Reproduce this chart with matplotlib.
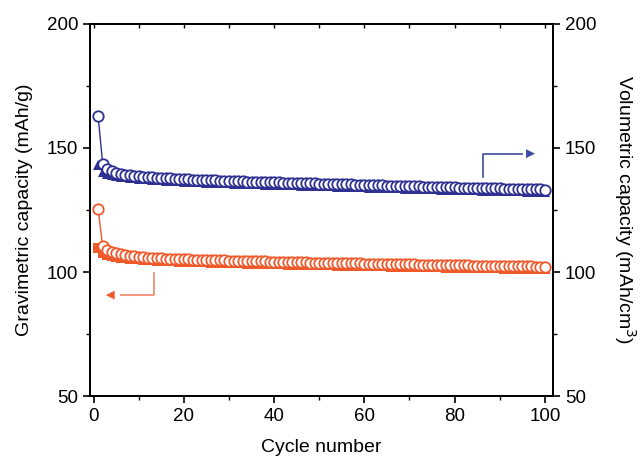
import matplotlib.pyplot as plt
import numpy as np

plt.rcParams['font.family'] = ['Liberation Sans', 'DejaVu Sans']

cycles = np.arange(1, 101)

# gravimetric capacity (mAh/g), left axis
grav_open = [125.3, 110.3, 109.0, 108.1, 107.5, 107.1, 106.8, 106.5, 106.3, 106.1,
             105.9, 105.8, 105.7, 105.6, 105.5, 105.4, 105.3, 105.3, 105.2, 105.1,
             105.1, 105.0, 105.0, 104.9, 104.9, 104.8, 104.8, 104.7, 104.7, 104.6,
             104.6, 104.5, 104.5, 104.4, 104.4, 104.3, 104.3, 104.3, 104.2, 104.2,
             104.1, 104.1, 104.0, 104.0, 104.0, 103.9, 103.9, 103.8, 103.8, 103.8,
             103.7, 103.7, 103.7, 103.6, 103.6, 103.6, 103.5, 103.5, 103.5, 103.4,
             103.4, 103.4, 103.3, 103.3, 103.3, 103.2, 103.2, 103.2, 103.1, 103.1,
             103.1, 103.0, 103.0, 103.0, 102.9, 102.9, 102.9, 102.8, 102.8, 102.8,
             102.7, 102.7, 102.7, 102.6, 102.6, 102.6, 102.5, 102.5, 102.5, 102.5,
             102.4, 102.4, 102.4, 102.3, 102.3, 102.3, 102.3, 102.2, 102.2, 102.2]
grav_fill = [109.6, 107.6, 106.9, 106.5, 106.1, 105.8, 105.6, 105.4, 105.2, 105.1,
             104.9, 104.8, 104.7, 104.6, 104.5, 104.4, 104.3, 104.3, 104.2, 104.1,
             104.1, 104.0, 104.0, 103.9, 103.9, 103.8, 103.8, 103.7, 103.7, 103.6,
             103.6, 103.5, 103.5, 103.4, 103.4, 103.3, 103.3, 103.3, 103.2, 103.2,
             103.1, 103.1, 103.0, 103.0, 103.0, 102.9, 102.9, 102.8, 102.8, 102.8,
             102.7, 102.7, 102.7, 102.6, 102.6, 102.6, 102.5, 102.5, 102.5, 102.4,
             102.4, 102.4, 102.3, 102.3, 102.3, 102.2, 102.2, 102.2, 102.1, 102.1,
             102.1, 102.0, 102.0, 102.0, 101.9, 101.9, 101.9, 101.8, 101.8, 101.8,
             101.7, 101.7, 101.7, 101.6, 101.6, 101.6, 101.5, 101.5, 101.5, 101.5,
             101.4, 101.4, 101.4, 101.3, 101.3, 101.3, 101.3, 101.2, 101.2, 101.2]

# volumetric capacity (mAh/cm3), right axis
vol_open = [162.8, 143.6, 141.6, 140.7, 140.1, 139.7, 139.3, 139.0, 138.8, 138.6,
            138.4, 138.3, 138.1, 138.0, 137.9, 137.8, 137.7, 137.6, 137.5, 137.4,
            137.3, 137.2, 137.1, 137.1, 137.0, 136.9, 136.9, 136.8, 136.7, 136.7,
            136.6, 136.5, 136.5, 136.4, 136.4, 136.3, 136.3, 136.2, 136.2, 136.1,
            136.1, 136.0, 136.0, 135.9, 135.9, 135.8, 135.8, 135.7, 135.7, 135.6,
            135.6, 135.5, 135.5, 135.4, 135.4, 135.3, 135.3, 135.2, 135.2, 135.1,
            135.0, 135.0, 134.9, 134.9, 134.8, 134.8, 134.7, 134.7, 134.6, 134.6,
            134.5, 134.5, 134.4, 134.4, 134.3, 134.3, 134.2, 134.2, 134.1, 134.1,
            134.0, 134.0, 133.9, 133.9, 133.9, 133.8, 133.8, 133.7, 133.7, 133.7,
            133.6, 133.6, 133.5, 133.5, 133.5, 133.4, 133.4, 133.3, 133.3, 133.2]
vol_fill = [143.0, 140.2, 139.5, 139.0, 138.7, 138.4, 138.1, 137.9, 137.7, 137.6,
            137.4, 137.3, 137.1, 137.0, 136.9, 136.8, 136.7, 136.6, 136.5, 136.4,
            136.3, 136.2, 136.1, 136.1, 136.0, 135.9, 135.9, 135.8, 135.7, 135.7,
            135.6, 135.5, 135.5, 135.4, 135.4, 135.3, 135.3, 135.2, 135.2, 135.1,
            135.1, 135.0, 135.0, 134.9, 134.9, 134.8, 134.8, 134.7, 134.7, 134.6,
            134.6, 134.5, 134.5, 134.4, 134.4, 134.3, 134.3, 134.2, 134.2, 134.1,
            134.0, 134.0, 133.9, 133.9, 133.8, 133.8, 133.7, 133.7, 133.6, 133.6,
            133.5, 133.5, 133.4, 133.4, 133.3, 133.3, 133.2, 133.2, 133.1, 133.1,
            133.0, 133.0, 132.9, 132.9, 132.9, 132.8, 132.8, 132.7, 132.7, 132.7,
            132.6, 132.6, 132.5, 132.5, 132.5, 132.4, 132.4, 132.3, 132.3, 132.2]

orange = '#f0592a'
blue = '#2e3192'

fig = plt.figure(figsize=(6.43, 4.59), dpi=100)
ax = fig.add_axes([0.14, 0.137, 0.72, 0.811])
ax2 = ax.twinx()

ax.plot(cycles, grav_fill, color=orange, marker='s', ms=7, mew=0, lw=1, zorder=2)
ax.plot(cycles, grav_open, color=orange, marker='o', ms=7.5, mfc='white',
        mec=orange, mew=1.3, lw=1, zorder=3)
ax2.plot(cycles, vol_fill, color=blue, marker='^', ms=7.5, mew=0, lw=1, zorder=2)
ax2.plot(cycles, vol_open, color=blue, marker='o', ms=7.5, mfc='white',
         mec=blue, mew=1.3, lw=1, zorder=3)

# arrows pointing at the matching axis
ax.plot([13.3, 13.3, 6.0], [99.5, 90.7, 90.7], color='#f4866a', lw=1.2)
ax.annotate('', xy=(2.7, 90.7), xytext=(6.5, 90.7),
            arrowprops=dict(arrowstyle='-|>', color='#f0592a', lw=0,
                            mutation_scale=16, shrinkA=0, shrinkB=0))
ax2.plot([86.3, 86.3, 95.0], [138.3, 147.7, 147.7], color='#3c4aa0', lw=1.2)
ax2.annotate('', xy=(97.8, 147.7), xytext=(94.5, 147.7),
             arrowprops=dict(arrowstyle='-|>', color='#3c4aa0', lw=0,
                             mutation_scale=16, shrinkA=0, shrinkB=0))

ax.set_xlim(-0.8, 101.8)
for a in (ax, ax2):
    a.set_ylim(50, 200)
    a.set_yticks([50, 100, 150, 200])
    a.set_yticks([75, 125, 175], minor=True)
    for s in a.spines.values():
        s.set_linewidth(1.3)
ax.set_xticks([0, 20, 40, 60, 80, 100])
ax.set_xticks([10, 30, 50, 70, 90], minor=True)

ax.tick_params(axis='x', which='major', direction='out', length=5, width=1.2,
               labelsize=13.5, top=False)
ax.tick_params(axis='x', which='minor', direction='out', length=3, width=1.0)
ax.tick_params(axis='y', which='major', direction='out', length=5, width=1.2,
               labelsize=13.5)
ax.tick_params(axis='y', which='minor', direction='out', length=3, width=1.0)
ax2.tick_params(axis='y', which='major', direction='out', length=5, width=1.2,
                labelsize=13.5)
ax2.tick_params(axis='y', which='minor', direction='out', length=3, width=1.0)

# short inward ticks along the top edge
top = ax.secondary_xaxis('top')
top.set_xticks(np.arange(0, 101, 10))
top.tick_params(direction='in', length=3, width=1.0, labelsize=0, labeltop=False)
top.spines['top'].set_linewidth(1.3)

ax.set_xlabel('Cycle number', fontsize=14, labelpad=10)
ax.set_ylabel('Gravimetric capacity (mAh/g)', fontsize=14, labelpad=10)
ax2.set_ylabel('Volumetric capacity (mAh/cm$^3$)', fontsize=14, rotation=270,
               labelpad=30)

fig.savefig('out.png', dpi=100)
